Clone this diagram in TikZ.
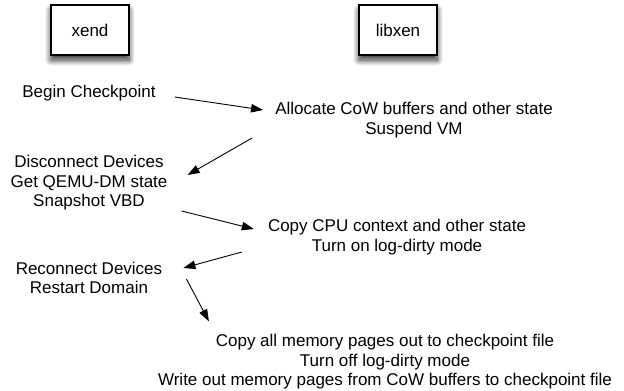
\documentclass[tikz,border=0pt]{standalone}
\usepackage{fontspec}
\setmainfont{Liberation Sans}
\usetikzlibrary{arrows.meta,shadows.blur}
\begin{document}
\begin{tikzpicture}[x=1pt,y=-1pt,
  txt/.style={inner sep=0pt,align=center,font=\fontsize{17}{19.5}\selectfont},
  actor/.style={draw,line width=1.2pt,fill=white,minimum width=78pt,minimum height=50pt,inner sep=0pt,
    font=\fontsize{17}{19.5}\selectfont,
    blur shadow={shadow xshift=0pt,shadow yshift=-5pt,shadow blur radius=6pt,shadow blur steps=12,shadow opacity=85}},
  arr/.style={line width=0.9pt,-{Triangle[length=12pt,width=8.5pt]}}]
\useasboundingbox (0,0) rectangle (624,391);
\node[actor] (xend) at (90,30) {xend};
\node[actor] (libxen) at (398,30) {libxen};
\node[txt] (begin) at (89,93) {Begin Checkpoint};
\node[txt] (alloc) at (414,120) {Allocate CoW buffers and other state\\Suspend VM};
\node[txt] (disc) at (89,183) {Disconnect Devices\\Get QEMU-DM state\\Snapshot VBD};
\node[txt] (copycpu) at (397,237) {Copy CPU context and other state\\Turn on log-dirty mode};
\node[txt] (recon) at (89,278) {Reconnect Devices\\Restart Domain};
\node[txt] (copymem) at (385,362) {Copy all memory pages out to checkpoint file\\Turn off log-dirty mode\\Write out memory pages from CoW buffers to checkpoint file};
\draw[arr] ([shift={(19,4)}]begin.east) -- ([shift={(-12,-10)}]alloc.west);
\draw[arr] ([shift={(-23,18)}]alloc.west) -- ([shift={(20,-8)}]disc.east);
\draw[arr] ([shift={(14,28)}]disc.east) -- ([shift={(-14,-8)}]copycpu.west);
\draw[arr] ([shift={(-26,15)}]copycpu.west) -- ([shift={(21,-10)}]recon.east);
\draw[arr] ([shift={(24,1)}]recon.east) -- ([shift={(51,-13)}]copymem.north west);
\end{tikzpicture}
\end{document}
